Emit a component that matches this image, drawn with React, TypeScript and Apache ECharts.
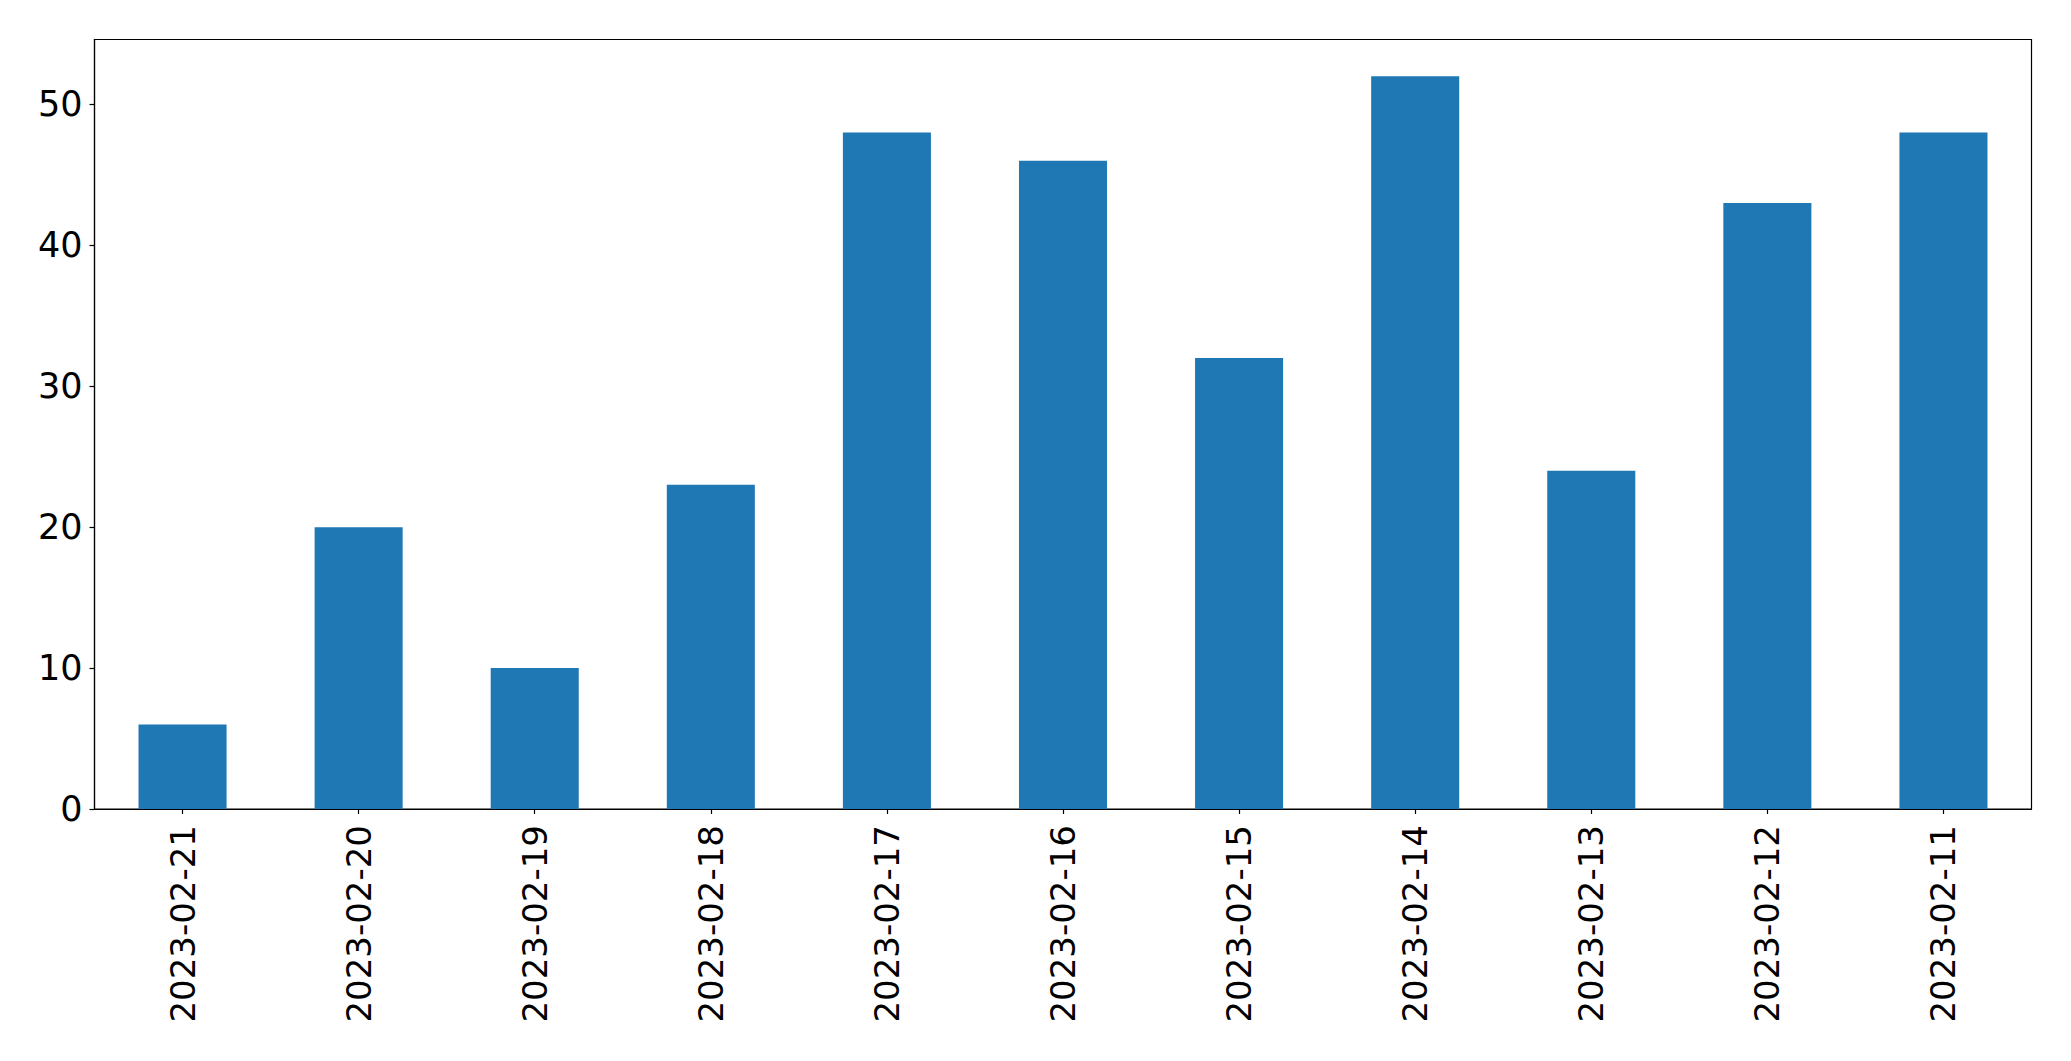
import React, { useEffect, useRef } from "react";
import * as echarts from "echarts";

const categories = [
  "2023-02-21", "2023-02-20", "2023-02-19", "2023-02-18", "2023-02-17", "2023-02-16",
  "2023-02-15", "2023-02-14", "2023-02-13", "2023-02-12", "2023-02-11",
];
const values = [6, 20, 10, 23, 48, 46, 32, 52, 24, 43, 48];
const yTicks = [0, 10, 20, 30, 40, 50];

const FONT = "DejaVu Sans";

export default function App() {
  const ref = useRef<HTMLDivElement>(null);
  useEffect(() => {
    if (!ref.current) return;
    const chart = echarts.init(ref.current, undefined, { renderer: "svg" });
    chart.setOption({
      animation: false,
      backgroundColor: "#ffffff",
      grid: {
        left: 94.5,
        top: 39.5,
        width: 1937,
        height: 769.5,
        show: true,
        borderColor: "#000000",
        borderWidth: 1.2,
        containLabel: false,
      },
      xAxis: {
        type: "category",
        data: categories,
        boundaryGap: true,
        axisLine: { show: true, lineStyle: { color: "#000000", width: 1.2 } },
        axisTick: { show: true, alignWithLabel: true, length: 5, lineStyle: { color: "#000000", width: 1.2 } },
        axisLabel: {
          rotate: 90,
          interval: 0,
          margin: 16,
          color: "#000000",
          fontFamily: FONT,
          fontSize: 34,
        },
        splitLine: { show: false },
      },
      yAxis: {
        type: "value",
        min: 0,
        max: 54.6,
        axisLine: { show: true, lineStyle: { color: "#000000", width: 1.2 } },
        axisTick: { show: true, length: 5, customValues: yTicks, lineStyle: { color: "#000000", width: 1.2 } },
        axisLabel: {
          customValues: yTicks,
          margin: 12,
          color: "#000000",
          fontFamily: FONT,
          fontSize: 35,
        },
        splitLine: { show: false },
      },
      series: [
        {
          type: "bar",
          data: values,
          barWidth: "50%",
          itemStyle: { color: "#1f77b4" },
        },
      ],
    });
    return () => chart.dispose();
  }, []);
  return (
    <div
      ref={ref}
      style={{ position: "fixed", left: 0, top: 0, width: 2071, height: 1061, background: "#fff" }}
    />
  );
}
